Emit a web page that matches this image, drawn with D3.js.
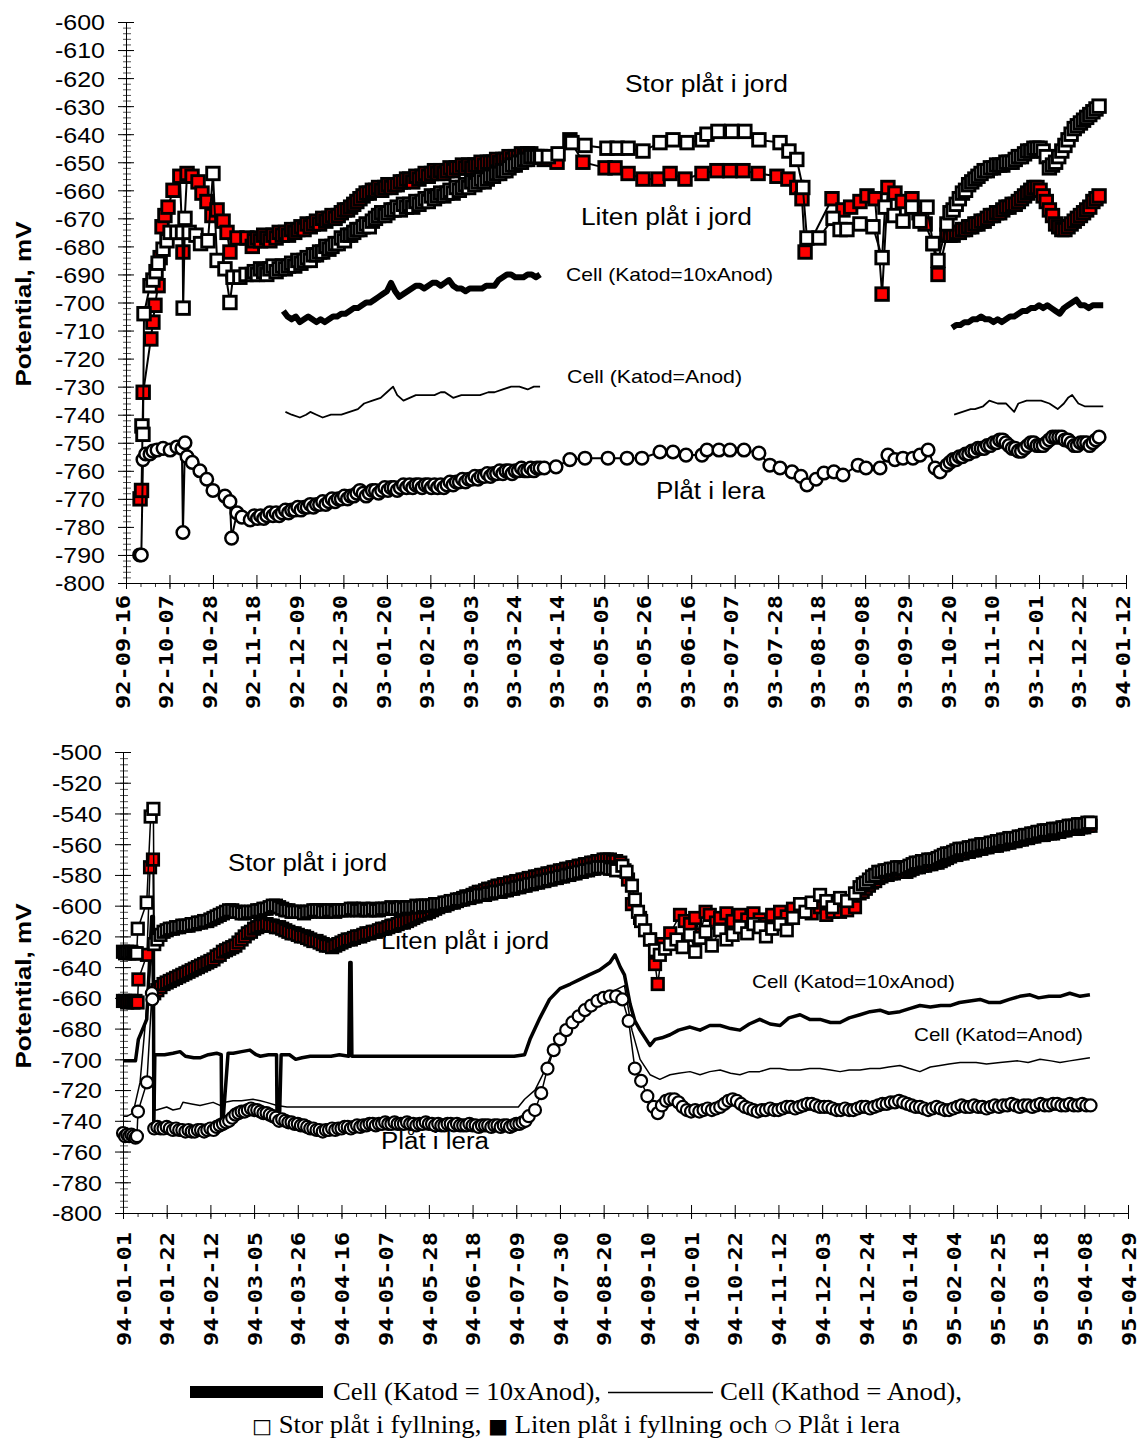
<!DOCTYPE html>
<html><head><meta charset="utf-8">
<script src="https://cdn.jsdelivr.net/npm/d3@7"></script>
<style>body{margin:0;background:#fff}svg{display:block}</style>
</head><body>
<svg id="c" width="1141" height="1439"></svg>
<script>
// ---------------- DATA (day offsets from chart start date, value in mV) ----------------
const topStart = "1992-09-16";
const botStart = "1994-01-01";
const yTickTop = d3.range(-800, -599, 10);
const yTickBot = d3.range(-800, -499, 20);

// ---- Top chart: Stor plåt (white squares)
const storTopA = [[7.7,-744],[8.2,-747],[8.7,-704],[11.6,-694],[13,-692],[14.5,-689],[15.5,-686],[17.9,-681],[19.8,-678],[21.3,-675],[24.6,-675],[27.3,-675],[27.6,-702],[28.5,-670],[30.5,-675],[33.8,-676],[36,-679],[39.6,-678],[42,-654],[44,-685],[47.8,-688],[50.2,-700],[51.7,-691],[55,-691],[58,-690],[61,-690]];
const storTopDenseA = {start:62, step:1.5, values:[-689,-690,-688,-689,-690,-688,-687,-689,-688,-687,-688,-687,-686,-687,-685,-686,-685,-684,-685,-683,-683,-682,-682,-680,-681,-680,-679,-679,-677,-678,-676,-676,-675,-674,-674,-673,-672,-673,-671,-670,-669,-668,-669,-668,-667,-667,-666,-667,-665,-666,-665,-666,-664,-665,-664,-663,-664,-662,-663,-662,-661,-662,-661,-660,-661,-659,-660,-659,-658,-659,-657,-658,-657,-656,-657,-656,-655,-655,-654,-654,-653,-653,-652,-651,-651,-650,-650,-649,-649,-648,-648,-648,-648]};
const storTopB = [[200.4,-648],[204,-648],[208.7,-647],[215.4,-643],[221.7,-644],[232.3,-645],[237.2,-645],[242.5,-645],[249.7,-646],[257.9,-643],[264.2,-642],[271,-643],[278.2,-642],[280.6,-640],[285.9,-639],[292.6,-639],[298.9,-639],[305.7,-642],[315.9,-643],[320.2,-646],[324,-649],[326.9,-659],[328.9,-677],[334.7,-677],[341.5,-670],[344.9,-674],[348.2,-674],[354.5,-672],[360.8,-673],[365.2,-684],[366.6,-666],[371,-669],[375.3,-671],[379.6,-666],[383.5,-671],[386.9,-666],[389.8,-679],[392.2,-685],[396.5,-672]];
const storTopDenseB = {start:398, step:1.5, values:[-668,-667,-665,-663,-661,-660,-658,-657,-656,-655,-654,-653,-653,-652,-652,-651,-651,-651,-650,-650,-650,-649,-648,-648,-647,-646,-646,-645,-645,-645,-646,-648,-652,-651,-650,-648,-646,-644,-642,-640,-638,-637,-636,-635,-634,-633,-632,-631,-630]};

// ---- Top chart: Liten plåt (red squares)
const litenTopA = [[6.8,-770],[7.5,-767],[8.3,-732],[12,-713],[13,-707],[14,-701],[15.5,-694],[16.5,-684],[17.4,-673],[18.8,-669],[20.3,-666],[22.7,-660],[26,-655],[27.5,-682],[29.5,-654],[31.9,-655],[34.8,-657],[36.7,-661],[39.1,-664],[41.5,-669],[44,-667],[46.9,-671],[48.8,-675],[50.2,-682],[53.6,-677],[58.4,-677],[61,-680]];
const litenTopDenseA = {start:62, step:1.5, values:[-678,-677,-678,-676,-677,-678,-676,-677,-675,-676,-675,-676,-674,-675,-674,-673,-674,-672,-673,-672,-671,-672,-670,-671,-670,-669,-670,-669,-668,-667,-667,-666,-665,-664,-663,-662,-661,-661,-660,-660,-659,-660,-659,-658,-659,-658,-658,-657,-657,-656,-656,-657,-655,-656,-655,-654,-655,-654,-653,-654,-653,-654,-653,-652,-653,-652,-652,-651,-652,-651,-652,-651,-651,-650,-651,-650,-650,-650,-649,-650,-649,-649,-648,-649,-648,-648,-647,-648,-647,-647,-648,-648,-648]};
const litenTopB = [[202,-649],[208.2,-650],[214.4,-642],[220.7,-650],[231.4,-652],[236.2,-652],[242.5,-654],[249.7,-656],[257,-656],[262.8,-654],[270,-656],[278.2,-654],[285.4,-653],[291.7,-653],[298,-653],[305.3,-654],[314.4,-655],[319.7,-656],[324,-659],[326.5,-663],[328,-682],[341,-663],[346.3,-667],[350,-666],[354.5,-664],[357.9,-662],[361.8,-663],[365.2,-697],[368,-659],[371.4,-661],[375,-664],[379.6,-663],[383,-668],[386,-672],[389.8,-679],[392.2,-690],[396.5,-676]];
const litenTopDenseB = {start:398, step:1.5, values:[-676,-676,-675,-675,-674,-674,-673,-673,-672,-672,-671,-671,-670,-669,-669,-668,-668,-667,-666,-666,-665,-665,-664,-663,-662,-661,-660,-659,-659,-660,-662,-664,-667,-669,-672,-673,-674,-674,-673,-672,-671,-670,-669,-668,-667,-666,-664,-663,-662]};

// ---- Top chart: Plåt i lera (circles)
const leraTopA = [[6.6,-790],[7.4,-790],[8.2,-756],[9.5,-754],[11.6,-754],[13,-753],[15,-752.6],[17.9,-752],[21.3,-752.6],[24.6,-751.5],[27,-752],[27.5,-782],[28.5,-750],[29.5,-755],[32,-757],[35.7,-760],[39,-763],[42,-767],[47.8,-769],[50.2,-771],[51,-784],[53.6,-775],[56,-776.5],[60,-777.5]];
const leraTopDenseA = {start:62, step:1.5, values:[-776,-777,-776,-777,-776,-775,-776,-775,-776,-775,-774,-775,-774,-774,-773,-774,-773,-773,-772,-773,-772,-772,-771,-772,-771,-770,-771,-770,-770,-769,-770,-769,-769,-768,-767,-768,-769,-768,-767,-767,-768,-767,-766,-767,-766,-766,-767,-766,-765,-766,-765,-766,-765,-765,-766,-765,-765,-766,-765,-766,-765,-766,-765,-764,-765,-764,-764,-763,-764,-763,-763,-762,-763,-762,-762,-761,-762,-761,-761,-760,-761,-760,-760,-761,-760,-760,-759,-760,-760,-759,-760,-759,-759]};
const leraTopB = [[202,-759],[207.7,-758.6],[214.4,-756],[221.7,-755.5],[232.8,-755.5],[242,-755.5],[249.2,-755.5],[257.9,-753.3],[264.2,-753.3],[270.5,-754.4],[278.2,-754.4],[280.6,-752.6],[286.4,-752.6],[291.7,-752.6],[298.5,-752.6],[305.7,-753.7],[311,-758],[315.9,-759],[321.7,-760.4],[326,-762],[328.9,-765],[333.3,-763],[337.1,-760.8],[341.9,-760.4],[346.3,-761.5],[353.6,-758],[357.4,-759],[364.2,-759],[368,-754.4],[371.4,-756],[375.3,-755.5],[380.1,-755.5],[383.5,-754.4],[387.4,-752.6],[390.8,-759],[393.2,-760.4],[396.5,-758]];
const leraTopDenseB = {start:398, step:1.5, values:[-757,-756,-756,-755,-755,-754,-754,-753,-753,-752,-752,-752,-751,-751,-750,-750,-749,-749,-750,-751,-752,-752,-753,-753,-752,-751,-750,-750,-751,-751,-751,-750,-749,-748,-748,-748,-748,-749,-749,-750,-751,-751,-750,-750,-750,-751,-750,-749,-748]};

// ---- Top chart: cell lines
const cell10TopA = [[76,-703],[78,-705],[80,-706],[82,-705],[84,-707],[86,-706],[88,-705],[90,-706],[92,-707],[94,-706],[96,-707],[98,-706],[100,-705],[102,-705],[104,-704],[106,-704],[108,-703],[110,-702],[112,-702],[114,-701],[116,-700],[118,-700],[120,-699],[122,-698],[124,-697],[126,-696],[128,-693],[130,-696],[132,-698],[134,-697],[136,-696],[138,-695],[140,-694],[142,-694],[144,-695],[146,-694],[148,-693],[150,-693],[152,-694],[154,-693],[156,-692],[158,-694],[160,-695],[162,-695],[164,-696],[166,-695],[168,-695],[170,-695],[172,-695],[174,-694],[176,-694],[178,-694],[180,-692],[182,-691],[184,-690],[186,-690],[188,-691],[190,-691],[192,-691],[194,-690],[196,-690],[198,-691],[200,-690]];
const cell10TopB = [[399,-709],[401,-708],[403,-708],[405,-707],[407,-707],[409,-706],[411,-706],[413,-705],[415,-706],[417,-706],[419,-707],[421,-706],[423,-707],[425,-706],[427,-705],[429,-705],[431,-704],[433,-703],[435,-703],[437,-702],[439,-702],[441,-701],[443,-702],[445,-701],[447,-702],[449,-703],[451,-704],[453,-702],[455,-701],[457,-700],[459,-699],[461,-701],[463,-701],[465,-702],[467,-701],[469,-701],[472,-701]];
const cell1TopA = [[77,-739],[80,-740],[84,-741],[87,-740],[89,-739],[92,-740],[95,-741],[99,-740],[104,-740],[108,-739],[112,-738],[115,-736],[119,-735],[123,-734],[126,-732],[129,-730],[131,-733],[134,-735],[137,-734],[140,-733],[144,-733],[149,-733],[152,-732],[154,-732],[156,-733],[158,-734],[162,-733],[166,-733],[171,-733],[175,-732],[178,-732],[182,-731],[186,-730],[190,-730],[194,-731],[197,-730],[200,-730]];
const cell1TopB = [[400,-740],[404,-739],[408,-738],[410,-738],[414,-737],[417,-735],[421,-736],[425,-736],[429,-739],[431,-736],[435,-735],[439,-735],[442,-735],[446,-736],[450,-738],[453,-736],[455,-734],[457,-733],[460,-736],[463,-737],[466,-737],[469,-737],[472,-737]];

// ---- Bottom chart: Stor plåt
const storBotA = [[0,-630],[1,-631],[2,-630],[3,-631],[4,-630],[5,-631],[6,-631],[6.6,-631],[7.1,-615],[11.4,-598],[13.3,-542],[14.6,-537]];
const storBotDenseA = {start:15, step:1.5, values:[-625,-622,-619,-617,-616,-615,-615,-614,-614,-613,-613,-613,-612,-612,-611,-611,-610,-610,-609,-608,-607,-606,-605,-604,-603,-603,-604,-604,-605,-605,-604,-604,-604,-603,-603,-602,-602,-601,-600,-600,-601,-602,-603,-603,-604,-604,-604,-604,-605,-604,-604,-603,-603,-603,-604,-604,-603,-603,-604,-603,-603,-603,-603,-602,-602,-603,-603,-602,-603,-603,-602,-603,-603,-602,-602,-602,-601,-602,-602,-601,-602,-601,-601,-601,-600,-601,-600,-600,-600,-600,-599,-599,-599,-598,-598,-597,-597,-596,-596,-596,-595,-595,-594,-594,-593,-593,-593,-592,-592,-591,-591,-591,-590,-590,-589,-589,-588,-588,-587,-587,-586,-586,-585,-585,-584,-584,-583,-583,-582,-582,-581,-581,-580,-580,-579,-579,-578,-578,-577,-577,-576,-576,-575,-575,-575,-575,-576,-576,-577]};
const storBotB = [[240,-574],[242,-578],[244.6,-587],[246,-596],[247.5,-604],[249,-610],[250.9,-616],[253.3,-622],[255.7,-629],[258,-632],[260.5,-628],[262.9,-625],[266,-622],[269,-627],[272.5,-619],[275,-630],[277.3,-621],[280,-617],[283,-626],[286.9,-616],[290,-622],[293,-619],[296.5,-614],[300,-618],[303,-612],[306.1,-614],[309,-620],[312,-615],[315.8,-612],[319,-616],[322,-608],[325.4,-599],[328,-604],[331,-598],[335,-593],[338,-597],[341,-601],[344.6,-595],[348,-597],[351.8,-592]];
const storBotDenseB = {start:354, step:1.5, values:[-588,-586,-585,-583,-581,-580,-578,-578,-577,-577,-576,-576,-575,-575,-576,-575,-574,-573,-572,-572,-571,-571,-570,-570,-570,-569,-568,-567,-566,-566,-565,-564,-563,-563,-563,-562,-562,-561,-561,-560,-560,-560,-559,-559,-558,-558,-557,-557,-556,-556,-556,-555,-555,-554,-554,-553,-553,-552,-552,-551,-551,-551,-550,-550,-550,-549,-549,-548,-548,-548,-547,-547,-547,-546,-546]};

// ---- Bottom chart: Liten plåt
const litenBotA = [[0,-662],[1,-662],[2,-663],[3,-662],[4,-662],[5,-663],[6,-662],[7,-663],[7.4,-648],[11.5,-632],[13,-575],[14.4,-570]];
const litenBotDenseA = {start:15, step:1.5, values:[-657,-655,-653,-651,-650,-649,-648,-647,-646,-645,-644,-643,-642,-641,-640,-639,-638,-637,-636,-635,-633,-632,-630,-629,-628,-627,-626,-624,-622,-620,-618,-617,-615,-614,-613,-613,-612,-613,-613,-614,-614,-615,-616,-617,-618,-618,-619,-620,-620,-621,-622,-623,-623,-624,-625,-626,-626,-627,-626,-625,-624,-623,-622,-622,-621,-620,-620,-619,-618,-618,-617,-617,-616,-615,-615,-614,-613,-613,-612,-611,-611,-610,-609,-608,-607,-606,-605,-605,-604,-603,-602,-601,-600,-600,-599,-598,-598,-597,-596,-595,-594,-594,-593,-592,-591,-591,-590,-589,-589,-588,-587,-587,-586,-586,-585,-585,-584,-584,-583,-583,-582,-582,-581,-581,-580,-580,-579,-579,-578,-578,-577,-577,-576,-576,-575,-575,-574,-574,-573,-573,-572,-572,-571,-571,-570,-570,-570,-571,-571]};
const litenBotB = [[239,-572],[241,-577],[242.7,-583],[244.6,-599],[248.5,-608],[253.3,-622],[255.7,-638],[257,-651],[259.5,-625],[263,-618],[267.7,-606],[270,-610],[272.5,-612],[275,-608],[277.3,-619],[280,-604],[282,-606],[285,-611],[287,-608],[290,-605],[293,-610],[296.5,-606],[300,-609],[303,-605],[306,-609],[309,-612],[312,-606],[315.8,-604],[319,-607],[322,-602],[325.4,-599],[328,-603],[331,-605],[335,-601],[338,-606],[341,-604],[344.6,-604],[348,-603],[351.8,-601]];
const litenBotDenseB = {start:354, step:1.5, values:[-592,-591,-589,-587,-585,-584,-582,-581,-580,-580,-579,-579,-578,-578,-578,-578,-577,-576,-575,-575,-574,-574,-573,-573,-572,-572,-571,-570,-569,-568,-567,-567,-566,-566,-565,-565,-564,-564,-563,-563,-562,-562,-561,-561,-561,-560,-560,-559,-559,-558,-558,-557,-557,-556,-556,-555,-555,-554,-554,-554,-553,-553,-553,-552,-552,-551,-551,-550,-550,-550,-550,-549,-549,-548,-548]};

// ---- Bottom chart: Plåt i lera
const leraBotA = [[0,-748],[1,-750],[2,-749],[3,-750],[4,-749],[5,-750],[6,-751],[6.7,-750],[7.2,-734],[11.5,-715],[13.9,-657],[14.1,-661]];
const leraBotDenseA = {start:15, step:1.5, values:[-745,-744,-745,-745,-744,-745,-746,-745,-746,-746,-747,-746,-747,-747,-746,-746,-747,-746,-745,-746,-744,-743,-742,-741,-740,-738,-736,-735,-734,-734,-733,-732,-733,-733,-734,-735,-735,-736,-737,-738,-740,-739,-740,-741,-741,-742,-742,-743,-743,-744,-745,-745,-746,-746,-747,-746,-746,-745,-746,-745,-745,-744,-744,-745,-744,-743,-744,-743,-743,-742,-742,-743,-742,-742,-741,-742,-742,-741,-742,-742,-742,-741,-742,-742,-743,-742,-742,-741,-742,-742,-743,-742,-743,-743,-742,-742,-743,-742,-743,-743,-743,-742,-743,-743,-744,-743,-743,-743,-744,-743,-743,-744,-743,-743,-744,-743,-742,-742,-741,-740,-737]};
const leraBotB = {start:198, step:3, values:[-733,-722,-706,-694,-687,-681,-676,-672,-668,-665,-662,-660,-659,-659,-661,-675,-706,-714,-724,-731]};
const leraBotDenseC = {start:257, step:2, values:[-735,-730,-727,-726,-726,-728,-731,-733,-734,-733,-734,-733,-732,-733,-732,-731,-729,-727,-726,-727,-729,-731,-732,-733,-734,-733,-733,-732,-733,-733,-732,-731,-731,-732,-731,-730,-729,-729,-730,-731,-731,-731,-732,-733,-733,-732,-733,-733,-732,-731,-731,-732,-731,-730,-729,-729,-728,-728,-727,-728,-729,-730,-731,-731,-732,-733,-732,-731,-732,-733,-733,-732,-731,-730,-731,-731,-730,-731,-731,-732,-731,-730,-731,-730,-730,-729,-730,-731,-730,-730,-731,-730,-729,-730,-730,-729,-729,-730,-730,-729,-730,-730,-729,-730,-730]};

// ---- Bottom chart: cell lines
const cell10Bot = [[0,-701],[3,-701],[6,-701],[7.4,-687],[11.4,-674],[13.8,-607],[14.6,-607],[14.8,-746],[15.3,-697],[20,-697],[24,-696],[27.4,-695],[30,-698],[34,-699],[37,-699],[41,-697],[45,-696],[47.2,-697],[47.4,-738],[48.2,-738],[50.5,-696],[53,-696],[57,-695],[61,-694],[64,-697],[66,-698],[70,-697],[73.8,-697],[74,-735],[75.3,-735],[76,-697],[80,-697],[83,-700],[86,-699],[90,-698],[95,-698],[100,-698],[104,-697],[108.5,-698],[109,-637],[109.6,-637],[110,-698],[115,-698],[120,-698],[130,-698],[140,-698],[150,-698],[160,-698],[170,-698],[180,-698],[188,-698],[193,-697],[195.6,-687],[198,-680],[200.4,-673],[205,-661],[210,-654],[215,-651],[219.6,-648],[224,-645],[229,-642],[234,-637],[236.5,-632],[239,-640],[241,-645],[243.7,-664],[246,-675],[248.5,-681],[253.3,-691],[255.7,-687],[259,-686],[262.9,-684],[267,-681],[272.5,-679],[277.3,-681],[282,-678],[287,-678],[292,-680],[296.5,-681],[301,-677],[306,-674],[311,-677],[315.8,-678],[320,-673],[325.4,-671],[330,-674],[335,-674],[340,-676],[344.6,-676],[349,-673],[354.2,-671],[359,-669],[363.8,-668],[368,-670],[373.4,-669],[378,-667],[383,-665],[388,-666],[393,-665],[397.5,-665],[402,-663],[407,-662],[411.9,-661],[416,-663],[421.5,-663],[426,-661],[431,-659],[435.9,-658],[440,-660],[445,-659],[450.3,-659],[455,-657],[460,-659],[464.7,-658]];
const cell1Bot = [[0,-737],[2,-737],[4.8,-735],[8.2,-715],[13,-642],[13.8,-624],[15.4,-733],[16.2,-733],[21,-731],[24,-733],[27.4,-732],[28.8,-728],[33,-729],[37,-730],[43.3,-728],[46.6,-730],[49,-728],[52.9,-727],[57,-727],[62.5,-726],[66,-727],[69,-728],[74,-730],[78.8,-731],[85,-731],[95,-731],[105,-731],[115,-731],[130,-731],[145,-731],[160,-731],[175,-731],[190,-731],[193,-726],[198,-720],[202.8,-707],[207.6,-691],[212.4,-681],[219.6,-671],[225,-665],[229,-661],[233,-657],[236.5,-655],[241,-652],[244.6,-681],[248.5,-700],[253.3,-710],[258,-713],[262.9,-710],[267,-709],[272.5,-708],[277.3,-710],[282,-708],[287,-707],[292,-709],[296.5,-710],[301,-708],[306,-708],[311,-706],[315.8,-706],[320,-707],[325.4,-707],[330,-706],[335,-706],[340,-707],[344.6,-708],[349,-707],[354.2,-707],[359,-706],[363.8,-706],[368,-705],[373.4,-704],[378,-706],[383,-708],[388,-705],[392.7,-704],[397,-703],[402.3,-702],[410,-702],[415,-703],[421.5,-702],[430,-701],[435,-702],[440.7,-700],[446,-701],[450.3,-702],[455,-701],[460,-700],[464.7,-699]];

// ---------------- DRAWING ----------------
const DAY = 864e5;
const svg = d3.select("#c");
function utc(s){const [y,m,d]=s.split("-").map(Number);return new Date(Date.UTC(y,m-1,d));}
function expand(seg){return seg.values.map((v,i)=>[seg.start+i*seg.step, v]);}

const charts = [
  {base:topStart, x0:126, x1:1126, yTop:22, yBot:583, vMin:-800, vMax:-600, yTicks:yTickTop, minor:2,
   labOff:12, labShift:-4, axisLabelY:304, sq:12.5, sqw:2.9, r:6.3, cw:2.5, lw:2, thick:6, thin:1.8,
   stor:[...storTopA, ...expand(storTopDenseA), ...storTopB, ...expand(storTopDenseB)],
   liten:[...litenTopA, ...expand(litenTopDenseA), ...litenTopB, ...expand(litenTopDenseB)],
   lera:[...leraTopA, ...expand(leraTopDenseA), ...leraTopB, ...expand(leraTopDenseB)],
   cell10:[cell10TopA, cell10TopB], cell1:[cell1TopA, cell1TopB],
   notes:[["Stor plåt i jord",625,92,163,23],["Liten plåt i jord",581,225,171,23],["Cell (Katod=10xAnod)",566,281,207,19],["Cell (Katod=Anod)",567,383,175,19],["Plåt i lera",656,499,109,23]]},
  {base:botStart, x0:123, x1:1128, yTop:752, yBot:1213, vMin:-800, vMax:-500, yTicks:yTickBot, minor:4,
   labOff:19, labShift:0, axisLabelY:986, sq:11.5, sqw:2.7, r:6, cw:2.2, lw:1.5, thick:3.5, thin:1.5,
   stor:[...storBotA, ...expand(storBotDenseA), ...storBotB, ...expand(storBotDenseB)],
   liten:[...litenBotA, ...expand(litenBotDenseA), ...litenBotB, ...expand(litenBotDenseB)],
   lera:[...leraBotA, ...expand(leraBotDenseA), ...expand(leraBotB), ...expand(leraBotDenseC)],
   cell10:[cell10Bot], cell1:[cell1Bot],
   notes:[["Stor plåt i jord",228,871,159,23],["Liten plåt i jord",381,949,168,23],["Cell (Katod=10xAnod)",752,988,203,19],["Cell (Katod=Anod)",914,1041,169,19],["Plåt i lera",381,1149,108,23]]}
];

charts.forEach(c=>{
  const base = utc(c.base);
  const x = d3.scaleUtc().domain([base, new Date(+base + 483*DAY)]).range([c.x0, c.x1]);
  const y = d3.scaleLinear().domain([c.vMin, c.vMax]).range([c.yBot, c.yTop]);
  const X = d => x(new Date(+base + d*DAY));
  const g = svg.append("g");

  const ym = g.append("g").attr("transform",`translate(${c.x0},0)`)
    .call(d3.axisLeft(y).tickValues(d3.range(c.vMin, c.vMax+0.001, c.minor)).tickSize(3).tickSizeOuter(0).tickFormat(""));
  ym.select(".domain").remove();
  ym.selectAll(".tick line").attr("x1",-3).attr("x2",5).attr("stroke","#555");
  const ya = g.append("g").attr("transform",`translate(${c.x0},0)`)
    .call(d3.axisLeft(y).tickValues(c.yTicks).tickSize(8).tickPadding(13).tickSizeOuter(0).tickFormat(d=>String(d)));
  ya.selectAll(".tick line").attr("x1",-8).attr("x2",8).attr("stroke","#000");
  ya.select(".domain").attr("stroke","#000");
  ya.selectAll(".tick text").attr("font-family","'Liberation Sans', Arial, sans-serif").attr("font-size",22)
    .attr("dy","0.36em").attr("fill","#000").attr("textLength",50).attr("lengthAdjust","spacingAndGlyphs");

  const minorDates = d3.range(0, 484, 7).map(d=>new Date(+base + d*DAY));
  const xm = g.append("g").attr("transform",`translate(0,${c.yBot})`)
    .call(d3.axisBottom(x).tickValues(minorDates).tickSize(4).tickSizeOuter(0).tickFormat(""));
  xm.select(".domain").remove();
  xm.selectAll(".tick line").attr("stroke","#333");
  const majorDates = d3.range(0, 484, 21).map(d=>new Date(+base + d*DAY));
  const xa = g.append("g").attr("transform",`translate(0,${c.yBot})`)
    .call(d3.axisBottom(x).tickValues(majorDates).tickSize(6).tickSizeOuter(0).tickFormat(d3.utcFormat("%y-%m-%d")));
  xa.select(".domain").attr("stroke","#000");
  xa.selectAll(".tick line").attr("y1",-8).attr("y2",6).attr("stroke","#000");
  xa.selectAll(".tick text").attr("transform","rotate(-90)").attr("x",-c.labOff).attr("y",c.labShift)
    .attr("dy","0.36em").attr("text-anchor","end").attr("font-family","'DejaVu Sans Mono', monospace")
    .attr("font-weight","bold").attr("font-size",20).attr("fill","#000")
    .attr("textLength",114).attr("lengthAdjust","spacingAndGlyphs");

  g.append("text").attr("transform",`translate(31,${c.axisLabelY}) rotate(-90)`).attr("text-anchor","middle")
    .attr("font-family","'Liberation Sans', Arial, sans-serif").attr("font-weight","bold").attr("font-size",22)
    .attr("textLength",165).attr("lengthAdjust","spacingAndGlyphs").text("Potential, mV");

  const line = d3.line().x(d=>X(d[0])).y(d=>y(d[1]));

  c.cell10.forEach(seg=>g.append("path").attr("d",line(seg)).attr("fill","none").attr("stroke","#000")
    .attr("stroke-width",c.thick).attr("stroke-linejoin","round"));
  c.cell1.forEach(seg=>g.append("path").attr("d",line(seg)).attr("fill","none").attr("stroke","#000")
    .attr("stroke-width",c.thin).attr("stroke-linejoin","round"));

  [[c.liten,"#ff0000"],[c.stor,"#ffffff"]].forEach(([data,fill])=>{
    g.append("path").attr("d",line(data)).attr("fill","none").attr("stroke","#000").attr("stroke-width",c.lw);
    g.append("g").selectAll("rect").data(data).join("rect")
      .attr("x",d=>X(d[0])-c.sq/2).attr("y",d=>y(d[1])-c.sq/2).attr("width",c.sq).attr("height",c.sq)
      .attr("fill",fill).attr("stroke","#000").attr("stroke-width",c.sqw);
  });
  g.append("path").attr("d",line(c.lera)).attr("fill","none").attr("stroke","#000").attr("stroke-width",c.lw);
  g.append("g").selectAll("circle").data(c.lera).join("circle")
    .attr("cx",d=>X(d[0])).attr("cy",d=>y(d[1])).attr("r",c.r)
    .attr("fill","#fff").attr("stroke","#000").attr("stroke-width",c.cw);

  c.notes.forEach(([t,nx,ny,w,fs])=>g.append("text").attr("x",nx).attr("y",ny)
    .attr("font-family","'Liberation Sans', Arial, sans-serif").attr("font-size",fs).attr("fill","#000")
    .attr("textLength",w).attr("lengthAdjust","spacingAndGlyphs").text(t));
});

const lg = svg.append("g").attr("font-family","'Liberation Serif', 'Times New Roman', serif").attr("font-size",25).attr("fill","#000");
lg.append("rect").attr("x",190).attr("y",1386).attr("width",133).attr("height",12).attr("fill","#000");
lg.append("text").attr("x",333).attr("y",1400).attr("textLength",268).attr("lengthAdjust","spacingAndGlyphs").text("Cell (Katod = 10xAnod),");
lg.append("line").attr("x1",608).attr("x2",713).attr("y1",1392.5).attr("y2",1392.5).attr("stroke","#000").attr("stroke-width",1.3);
lg.append("text").attr("x",720).attr("y",1400).attr("textLength",242).attr("lengthAdjust","spacingAndGlyphs").text("Cell (Kathod = Anod),");
const l2 = lg.append("text").attr("x",252).attr("y",1433).attr("textLength",648).attr("lengthAdjust","spacingAndGlyphs");
l2.append("tspan").attr("font-family","'DejaVu Sans', sans-serif").attr("font-size",20).text("□");
l2.append("tspan").text(" Stor plåt i fyllning, ");
l2.append("tspan").attr("font-family","'DejaVu Sans', sans-serif").attr("font-size",20).text("■");
l2.append("tspan").text(" Liten plåt i fyllning och ");
l2.append("tspan").attr("font-family","'DejaVu Sans', sans-serif").attr("font-size",18).text("❍");
l2.append("tspan").text(" Plåt i lera");
</script>
</body></html>
